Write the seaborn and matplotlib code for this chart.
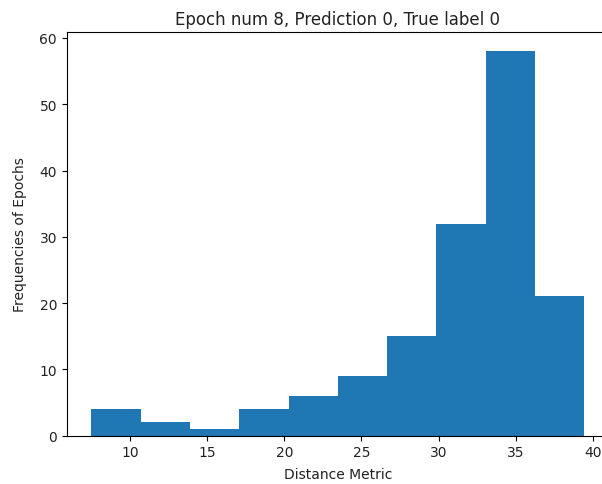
import matplotlib
matplotlib.use("Agg")
import matplotlib.pyplot as plt
import seaborn as sns
import numpy as np

# Histogram data
bin_edges = [7.5, 10.695, 13.89, 17.085, 20.28, 23.475, 26.67, 29.865, 33.06, 36.255, 39.45]
counts = [4, 2, 1, 4, 6, 9, 15, 32, 58, 21]
bin_centers = [(a + b) / 2 for a, b in zip(bin_edges[:-1], bin_edges[1:])]

fig = plt.figure(figsize=(6.02, 4.85), dpi=100)
ax = fig.add_axes([0.111, 0.0996, 0.9006, 0.8324])

sns.histplot(x=bin_centers, weights=counts, bins=bin_edges, ax=ax,
             color="#1f77b4", alpha=1, linewidth=0, edgecolor="none")

ax.set_xlim(5.9025, 41.0475)
ax.set_ylim(0, 60.9)
ax.set_xticks([10, 15, 20, 25, 30, 35, 40])
ax.set_yticks([0, 10, 20, 30, 40, 50, 60])
ax.set_title("Epoch num 8, Prediction 0, True label 0", color="#222222")
ax.set_xlabel("Distance Metric", labelpad=5.5, color="#222222")
ax.set_ylabel("Frequencies of Epochs", labelpad=9, color="#222222")
ax.tick_params(labelcolor="#222222")

fig.savefig("out.png", dpi=100)
